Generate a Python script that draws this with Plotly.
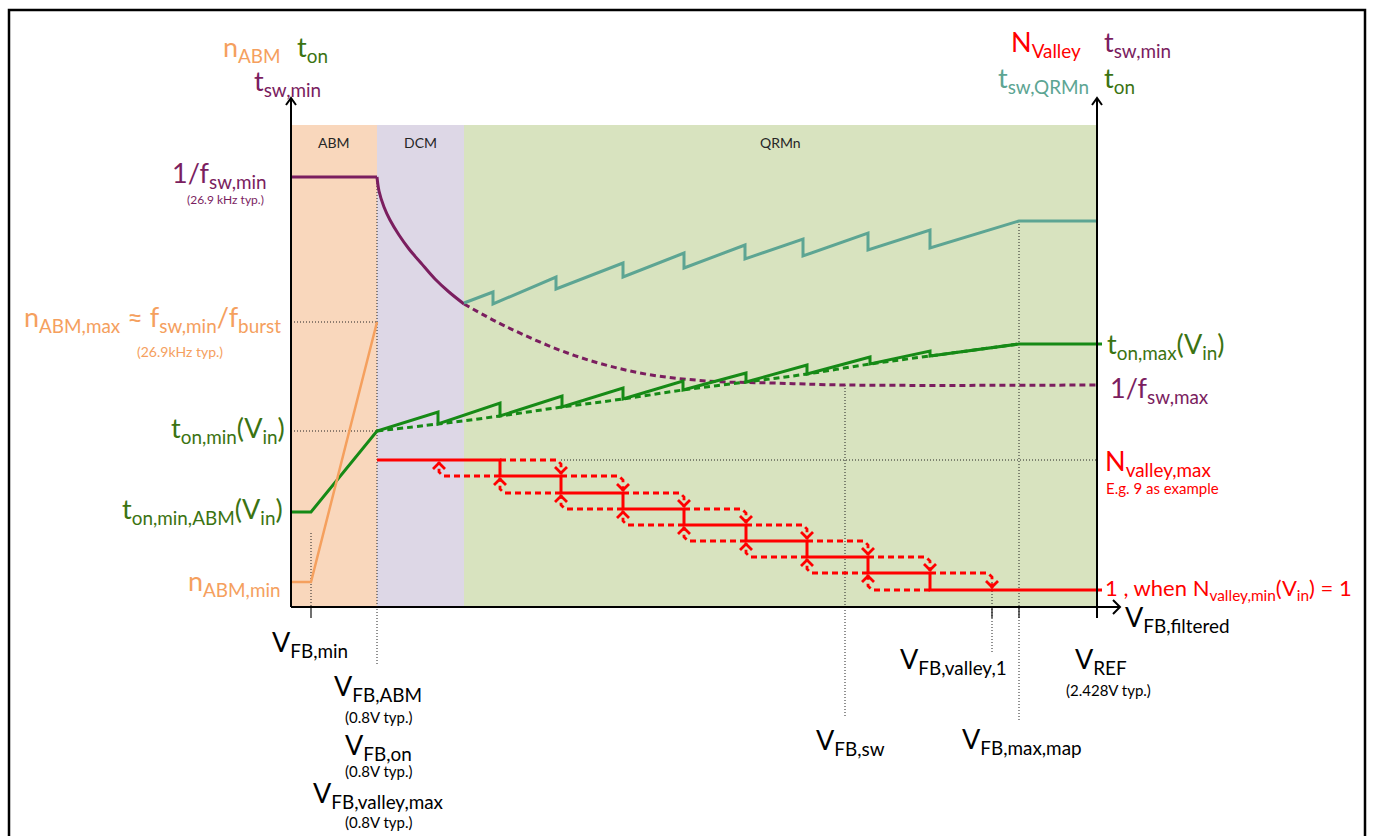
import plotly.graph_objects as go

# ---- drawing units: x = V_FB (arbitrary units), y = level (arbitrary units) ----
X_RANGE = [-291, 1082]
Y_RANGE = [-229, 607]

# operating-mode bands along V_FB
mode_names = ["ABM", "DCM", "QRMn"]
mode_start = [0, 86, 173]
mode_end = [86, 173, 806]
mode_colors = ["#F9D7BC", "#DDD7E6", "#D8E3BF"]
band_top = 482

# key V_FB positions
vfb_min = 20
vfb_abm = 86
vfb_sw = 554
vfb_valley1 = 701
vfb_max_map = 728
vfb_ref = 806

# t_sw,min (1/fsw) : flat in ABM, falling in DCM, dashed continuation in QRMn
tsw_flat_x = [0, 86]
tsw_flat_y = [430, 430]
tsw_dcm_x = [86, 88, 93, 99, 108, 118, 130, 144, 158, 173]
tsw_dcm_y = [430, 416, 400, 387, 372, 358, 344, 328, 315, 303]
tsw_dash_x = [173, 216, 282, 349, 416, 482, 554, 806]
tsw_dash_y = [303, 280, 252, 234, 226, 224, 222, 222]

# t_sw,QRMn sawtooth
tqr_x = [173, 202, 202, 265, 265, 332, 332, 393, 393, 454, 454, 512, 512, 577, 577, 639, 639, 728, 806]
tqr_y = [304, 315, 303, 330, 318, 344, 330, 354, 339, 362, 348, 368, 351, 374, 357, 377, 359, 386, 386]

# t_on
ton_x = [0, 20, 86, 147, 147, 209, 209, 271, 271, 332, 332, 392, 392, 455, 455, 516, 516, 579, 579, 639, 639, 728, 811]
ton_y = [95, 95, 176, 195, 183, 204, 191, 211, 200, 219, 208, 226, 217, 234, 225, 242, 233, 250, 243, 256, 251, 263, 263]
ton_dash_x = [86, 147, 209, 271, 332, 392, 455, 516, 579, 639, 728]
ton_dash_y = [176, 183, 191, 200, 208, 217, 225, 233, 243, 251, 263]

# n_ABM
nabm_x = [0, 20, 86]
nabm_y = [25, 25, 285]

# valley count staircase
n_valley = [9, 8, 7, 6, 5, 4, 3, 2, 1]
valley_level_y = [147, 131, 114, 98, 82, 66, 50, 34, 17]
valley_switch_x = [209, 270, 332, 393, 455, 516, 577, 639]
hyst_rise_x = [270, 332, 393, 455, 516, 577, 639, 701]
hyst_fall_x = [148, 209, 270, 332, 393, 455, 516, 577]

PURPLE = "#7B1E5F"
TEAL = "#5DA593"
GREEN = "#168A16"
GREEN_TXT = "#3B7312"
ORANGE = "#F5A05E"
RED = "#FF0000"
GUIDE = "#222222"
FONT = "Lato"

fig = go.Figure()


def line(x, y, color, width=3, dash=None, shape="linear"):
    fig.add_trace(go.Scatter(
        x=x, y=y, mode="lines", hoverinfo="skip", showlegend=False,
        line=dict(color=color, width=width, dash=dash, shape=shape)))


def guide(x, y):
    line(x, y, GUIDE, width=1, dash="1px,2px")


# mode bands
for name, x0, x1, c in zip(mode_names, mode_start, mode_end, mode_colors):
    fig.add_shape(type="rect", x0=x0, x1=x1, y0=0, y1=band_top, fillcolor=c,
                  line=dict(width=0), layer="below")
    fig.add_annotation(x=(x0 + x1) / 2, y=band_top - 17, text=name, showarrow=False,
                       font=dict(family=FONT, size=14, color="#262626"))

# outer frame
fig.add_shape(type="rect", x0=-282, x1=1074, y0=-240, y1=597,
              line=dict(color="black", width=2.5), fillcolor="rgba(0,0,0,0)")

# dotted guides
guide([0, vfb_abm], [nabm_y[-1], nabm_y[-1]])
guide([0, vfb_abm], [ton_y[2], ton_y[2]])
guide([vfb_abm, vfb_abm], [tsw_flat_y[0], -58])
guide([vfb_min, vfb_min], [74, 0])
guide([hyst_rise_x[0], vfb_ref], [valley_level_y[0], valley_level_y[0]])
guide([vfb_sw, vfb_sw], [tsw_dash_y[-1], -111])
guide([vfb_max_map, vfb_max_map], [tqr_y[-1], -115])
guide([vfb_valley1, vfb_valley1], [valley_level_y[-1] + 8, -47])

# axis ticks below the V_FB axis
for xt in [vfb_min, vfb_valley1, vfb_max_map]:
    line([xt, xt], [0, -11], "#222222", width=1.3)

# curves
line(tsw_flat_x, tsw_flat_y, PURPLE)
line(tsw_dcm_x, tsw_dcm_y, PURPLE, shape="spline")
line(tsw_dash_x, tsw_dash_y, PURPLE, dash="6px,4px", shape="spline")
line(tqr_x, tqr_y, TEAL)
line(ton_dash_x, ton_dash_y, GREEN, dash="6px,4px", shape="spline")
line(ton_x, ton_y, GREEN)
line(nabm_x, nabm_y, ORANGE, width=2.5)

# hysteresis paths between valley levels
for k in range(len(hyst_rise_x)):
    yk, yk1 = valley_level_y[k], valley_level_y[k + 1]
    xr = hyst_rise_x[k]
    x_start = valley_switch_x[k]
    line([x_start, xr - 4, xr, xr], [yk, yk, yk - 4, yk1 + 2], RED, width=2.8, dash="6px,4px")
    line([xr - 6, xr, xr + 6], [yk1 + 9, yk1 + 3, yk1 + 9], RED, width=2.8)
    xf = hyst_fall_x[k]
    x_back = valley_switch_x[k]
    line([x_back, xf + 4, xf, xf], [yk1, yk1, yk1 + 4, yk - 2], RED, width=2.8, dash="6px,4px")
    line([xf - 6, xf, xf + 6], [yk - 9, yk - 3, yk - 9], RED, width=2.8)

# valley count staircase (solid)
sx, sy = [vfb_abm], [valley_level_y[0]]
for k, xs in enumerate(valley_switch_x):
    sx += [xs, xs]
    sy += [valley_level_y[k], valley_level_y[k + 1]]
sx.append(vfb_ref + 5)
sy.append(valley_level_y[-1])
line(sx, sy, RED, width=3)

# axes with open arrow heads
line([0, 0], [0, 509], "black", width=2)
line([-5, 0, 5], [502, 509, 502], "black", width=2)
line([vfb_ref, vfb_ref], [-11, 509], "black", width=2)
line([vfb_ref - 5, vfb_ref, vfb_ref + 5], [502, 509, 502], "black", width=2)
line([0, 829], [0, 0], "black", width=2)
line([822, 829, 822], [7, 0, -7], "black", width=2)


def label(x, y, text, color, size=27, xanchor="center"):
    fig.add_annotation(x=x, y=y, text=text, showarrow=False, xanchor=xanchor,
                       yanchor="middle", font=dict(family=FONT, size=size, color=color))


# axis titles
label(-8, 559, "n<sub>ABM</sub>", ORANGE, xanchor="right")
label(4, 559, "t<sub>on</sub>", GREEN_TXT, xanchor="left")
label(-4, 525, "t<sub>sw,min</sub>", PURPLE)
label(792, 564, "N<sub>Valley</sub>", RED, xanchor="right")
label(811, 564, "t<sub>sw,min</sub>", PURPLE, xanchor="left")
label(800, 528, "t<sub>sw,QRMn</sub>", TEAL, xanchor="right")
label(811, 528, "t<sub>on</sub>", GREEN_TXT, xanchor="left")

# left-side levels
label(-22, 433, "1/f<sub>sw,min</sub>", PURPLE, xanchor="right")
label(-66, 408, "(26.9 kHz typ.)", PURPLE, size=12)
label(-8, 289, "n<sub>ABM,max</sub> ≈ f<sub>sw,min</sub>/f<sub>burst</sub>", ORANGE, xanchor="right")
label(-111, 256, "(26.9kHz typ.)", ORANGE, size=14)
label(-4, 178, "t<sub>on,min</sub>(V<sub>in</sub>)", GREEN_TXT, xanchor="right")
label(-6, 97, "t<sub>on,min,ABM</sub>(V<sub>in</sub>)", GREEN_TXT, xanchor="right")
label(-8, 25, "n<sub>ABM,min</sub>", ORANGE, xanchor="right")

# right-side levels
label(814, 262, "t<sub>on,max</sub>(V<sub>in</sub>)", GREEN_TXT, xanchor="left")
label(817, 218, "1/f<sub>sw,max</sub>", PURPLE, xanchor="left")
label(812, 145, "N<sub>valley,max</sub>", RED, xanchor="left")
label(813, 119, "E.g. 9 as example", RED, size=15, xanchor="left")
label(812, 18, "1 , when N<sub>valley,min</sub>(V<sub>in</sub>) = 1", RED, size=22, xanchor="left")
label(832, -11, "V<sub>FB,filtered</sub>", "black", xanchor="left")

# V_FB markers
label(19, -36, "V<sub>FB,min</sub>", "black")
label(87, -80, "V<sub>FB,ABM</sub>", "black")
label(87, -110, "(0.8V typ.)", "black", size=15)
label(87, -139, "V<sub>FB,on</sub>", "black")
label(87, -164, "(0.8V typ.)", "black", size=15)
label(87, -187, "V<sub>FB,valley,max</sub>", "black")
label(87, -215, "(0.8V typ.)", "black", size=15)
label(559, -134, "V<sub>FB,sw</sub>", "black")
label(662, -53, "V<sub>FB,valley,1</sub>", "black")
label(731, -133, "V<sub>FB,max,map</sub>", "black")
label(810, -53, "V<sub>REF</sub>", "black")
label(817, -83, "(2.428V typ.)", "black", size=15)

fig.update_layout(
    width=1373, height=836, margin=dict(l=0, r=0, t=0, b=0),
    paper_bgcolor="white", plot_bgcolor="white",
    xaxis=dict(range=X_RANGE, visible=False, fixedrange=True),
    yaxis=dict(range=Y_RANGE, visible=False, fixedrange=True),
    showlegend=False,
)

fig.write_html("out.html")
